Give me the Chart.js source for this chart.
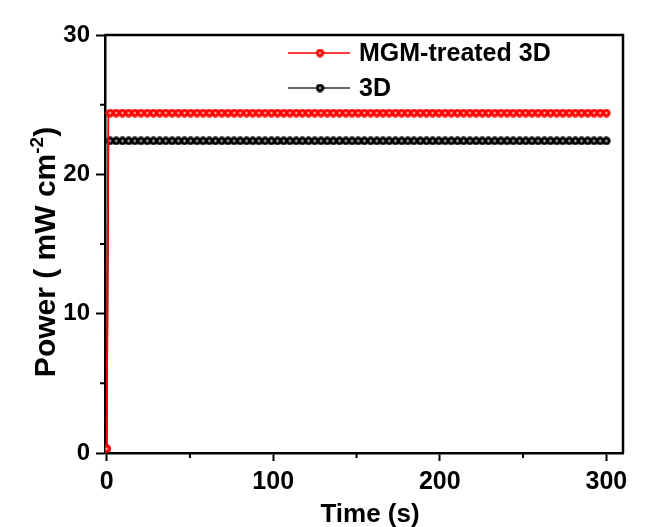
<!DOCTYPE html>
<html>
<head>
<meta charset="utf-8">
<script src="https://cdn.jsdelivr.net/npm/chart.js@4/dist/chart.umd.min.js"></script>
<style>
  html, body { margin: 0; padding: 0; background: #ffffff; }
  #wrap { width: 645px; height: 527px; }
</style>
</head>
<body>
<div id="wrap"><canvas id="c" width="645" height="527"></canvas></div>
<script>
// ---- data ----
const timeS = [
  0, 1.0, 2.0, 5.7, 9.5, 13.2, 16.9, 20.6, 24.4, 28.1, 31.8, 35.5,
  39.3, 43.0, 46.7, 50.4, 54.2, 57.9, 61.6, 65.3, 69.1, 72.8,
  76.5, 80.2, 84.0, 87.7, 91.4, 95.1, 98.9, 102.6, 106.3, 110.0,
  113.8, 117.5, 121.2, 124.9, 128.7, 132.4, 136.1, 139.8, 143.6, 147.3,
  151.0, 154.7, 158.5, 162.2, 165.9, 169.6, 173.4, 177.1, 180.8, 184.5,
  188.3, 192.0, 195.7, 199.4, 203.2, 206.9, 210.6, 214.3, 218.1, 221.8,
  225.5, 229.2, 233.0, 236.7, 240.4, 244.1, 247.9, 251.6, 255.3, 259.0,
  262.8, 266.5, 270.2, 273.9, 277.7, 281.4, 285.1, 288.8, 292.6, 296.3,
  300.0
];
const mgmPower = [
  0.3, 24.4, 24.4, 24.4, 24.4, 24.4, 24.4, 24.4, 24.4, 24.4, 24.4, 24.4,
  24.4, 24.4, 24.4, 24.4, 24.4, 24.4, 24.4, 24.4, 24.4, 24.4,
  24.4, 24.4, 24.4, 24.4, 24.4, 24.4, 24.4, 24.4, 24.4, 24.4,
  24.4, 24.4, 24.4, 24.4, 24.4, 24.4, 24.4, 24.4, 24.4, 24.4,
  24.4, 24.4, 24.4, 24.4, 24.4, 24.4, 24.4, 24.4, 24.4, 24.4,
  24.4, 24.4, 24.4, 24.4, 24.4, 24.4, 24.4, 24.4, 24.4, 24.4,
  24.4, 24.4, 24.4, 24.4, 24.4, 24.4, 24.4, 24.4, 24.4, 24.4,
  24.4, 24.4, 24.4, 24.4, 24.4, 24.4, 24.4, 24.4, 24.4, 24.4,
  24.4
];
const plainPower = [
  0.3, 22.4, 22.4, 22.4, 22.4, 22.4, 22.4, 22.4, 22.4, 22.4, 22.4, 22.4,
  22.4, 22.4, 22.4, 22.4, 22.4, 22.4, 22.4, 22.4, 22.4, 22.4,
  22.4, 22.4, 22.4, 22.4, 22.4, 22.4, 22.4, 22.4, 22.4, 22.4,
  22.4, 22.4, 22.4, 22.4, 22.4, 22.4, 22.4, 22.4, 22.4, 22.4,
  22.4, 22.4, 22.4, 22.4, 22.4, 22.4, 22.4, 22.4, 22.4, 22.4,
  22.4, 22.4, 22.4, 22.4, 22.4, 22.4, 22.4, 22.4, 22.4, 22.4,
  22.4, 22.4, 22.4, 22.4, 22.4, 22.4, 22.4, 22.4, 22.4, 22.4,
  22.4, 22.4, 22.4, 22.4, 22.4, 22.4, 22.4, 22.4, 22.4, 22.4,
  22.4
];
// the t = 1.0 s sample is part of the rising edge and carries no marker
const unmarkedIndex = 1;
const seriesNames = ['MGM-treated 3D', '3D'];
const xTickValues = [0, 100, 200, 300];
const yTickValues = [0, 10, 20, 30];
const xMinorTicks = [50, 150, 250];
const yMinorTicks = [5, 15, 25];
const xTitle = 'Time (s)';
const yTitleMain = 'Power ( mW cm';
const yTitleSup = '-2';
const yTitleEnd = ')';

// ---- styles ----
const FONT = '"Liberation Sans", Arial, Helvetica, sans-serif';
const RED = '#ff0000';
const BLACK = '#000000';

function makeDot(color) {
  const c = document.createElement('canvas');
  c.width = 9; c.height = 9;
  const g = c.getContext('2d');
  g.fillStyle = color;
  g.beginPath(); g.arc(4.5, 4.5, 4.2, 0, Math.PI * 2); g.fill();
  const rg = g.createRadialGradient(4.5, 4.5, 0, 4.5, 4.5, 1.9);
  rg.addColorStop(0, 'rgba(255,255,255,0.95)');
  rg.addColorStop(1, 'rgba(255,255,255,0)');
  g.fillStyle = rg;
  g.beginPath(); g.arc(4.5, 4.5, 1.9, 0, Math.PI * 2); g.fill();
  return c;
}
const redDot = makeDot(RED);
const blackDot = makeDot(BLACK);

const toPoints = (xs, ys) => xs.map((x, i) => ({ x: x, y: ys[i] }));
const markerRadius = ctx => (ctx.dataIndex === unmarkedIndex ? 0 : 4.5);

const decorPlugin = {
  id: 'decor',
  afterDraw(chart) {
    const ctx = chart.ctx;
    const a = chart.chartArea;
    const xs = chart.scales.x, ys = chart.scales.y;
    ctx.save();
    // frame (top and right sides)
    ctx.strokeStyle = BLACK;
    ctx.lineWidth = 2.5;
    ctx.beginPath();
    ctx.moveTo(a.left, a.top);
    ctx.lineTo(a.right, a.top);
    ctx.lineTo(a.right, a.bottom);
    ctx.stroke();
    // minor ticks
    ctx.lineWidth = 2;
    ctx.beginPath();
    xMinorTicks.forEach(v => {
      const px = xs.getPixelForValue(v);
      ctx.moveTo(px, a.bottom); ctx.lineTo(px, a.bottom + 5);
    });
    yMinorTicks.forEach(v => {
      const py = ys.getPixelForValue(v);
      ctx.moveTo(a.left, py); ctx.lineTo(a.left - 5, py);
    });
    ctx.stroke();

    // x title
    ctx.fillStyle = BLACK;
    ctx.font = 'bold 26px ' + FONT;
    ctx.textAlign = 'center';
    ctx.textBaseline = 'alphabetic';
    ctx.fillText(xTitle, 370, 522);

    // y title (rotated, with superscript)
    const fMain = 'bold 30px ' + FONT;
    const fSup = 'bold 19px ' + FONT;
    ctx.font = fMain;
    const w1 = ctx.measureText(yTitleMain).width;
    const w3 = ctx.measureText(yTitleEnd).width;
    ctx.font = fSup;
    const w2 = ctx.measureText(yTitleSup).width;
    const total = w1 + w2 + w3;
    ctx.translate(55, 252);
    ctx.rotate(-Math.PI / 2);
    ctx.textAlign = 'left';
    let x0 = -total / 2;
    ctx.font = fMain;
    ctx.fillText(yTitleMain, x0, 0);
    ctx.font = fSup;
    ctx.fillText(yTitleSup, x0 + w1, -12);
    ctx.font = fMain;
    ctx.fillText(yTitleEnd, x0 + w1 + w2, 0);
    ctx.setTransform(1, 0, 0, 1, 0, 0);

    // legend
    const items = [
      { name: seriesNames[0], color: RED, dot: redDot, y: 53 },
      { name: seriesNames[1], color: '#333333', dot: blackDot, y: 88 }
    ];
    ctx.font = 'bold 25px ' + FONT;
    ctx.textAlign = 'left';
    ctx.textBaseline = 'middle';
    items.forEach(it => {
      ctx.strokeStyle = it.color;
      ctx.lineWidth = 1.5;
      ctx.beginPath();
      ctx.moveTo(288, it.y); ctx.lineTo(350, it.y);
      ctx.stroke();
      ctx.drawImage(it.dot, 320 - 4.5, it.y - 4.5);
      ctx.fillStyle = BLACK;
      ctx.fillText(it.name, 359, it.y + 1);
    });
    ctx.restore();
  }
};

new Chart(document.getElementById('c'), {
  type: 'line',
  data: {
    datasets: [
      {
        label: seriesNames[0],
        data: toPoints(timeS, mgmPower),
        borderColor: RED,
        backgroundColor: RED,
        borderWidth: 1.8,
        pointStyle: redDot,
        pointRadius: markerRadius,
        tension: 0
      },
      {
        label: seriesNames[1],
        data: toPoints(timeS, plainPower),
        borderColor: BLACK,
        backgroundColor: BLACK,
        borderWidth: 1.8,
        pointStyle: blackDot,
        pointRadius: markerRadius,
        tension: 0
      }
    ]
  },
  options: {
    responsive: false,
    animation: false,
    devicePixelRatio: 1,
    layout: { padding: { left: 0, top: 35, right: 22, bottom: 0 } },
    plugins: { legend: { display: false }, tooltip: { enabled: false }, title: { display: false } },
    scales: {
      x: {
        type: 'linear',
        min: -1,
        max: 310,
        afterBuildTicks: s => { s.ticks = xTickValues.map(v => ({ value: v })); },
        afterFit: s => { s.height = 74; },
        grid: { drawOnChartArea: false, drawTicks: true, tickLength: 8, tickWidth: 2, tickColor: BLACK },
        border: { display: true, color: BLACK, width: 2.5 },
        ticks: { color: BLACK, font: { family: FONT, size: 25, weight: 'bold' }, padding: 6, maxRotation: 0, autoSkip: false },
        title: { display: false }
      },
      y: {
        type: 'linear',
        min: 0,
        max: 30,
        afterBuildTicks: s => { s.ticks = yTickValues.map(v => ({ value: v })); },
        afterFit: s => { s.width = 105; },
        grid: { drawOnChartArea: false, drawTicks: true, tickLength: 9, tickWidth: 2, tickColor: BLACK },
        border: { display: true, color: BLACK, width: 2.5 },
        ticks: { color: BLACK, font: { family: FONT, size: 24, weight: 'bold' }, padding: 6, autoSkip: false },
        title: { display: false }
      }
    }
  },
  plugins: [decorPlugin]
});
</script>
</body>
</html>
